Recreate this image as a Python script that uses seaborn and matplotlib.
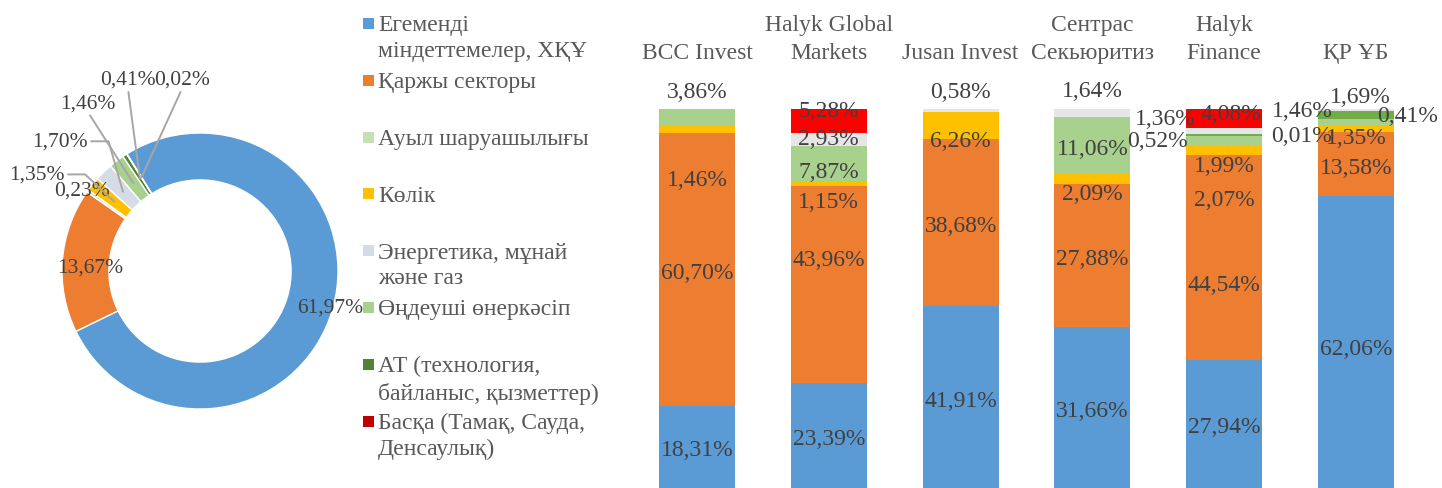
import numpy as np
import pandas as pd
import matplotlib
matplotlib.use("Agg")
import matplotlib.pyplot as plt
from matplotlib.patches import Rectangle
import seaborn as sns

# ---------------- data ----------------
donut_labels = ["Егеменді\nміндеттемелер, ХҚҰ", "Қаржы секторы", "Ауыл шаруашылығы", "Көлік",
                "Энергетика, мұнай\nжәне газ", "Өңдеуші өнеркәсіп",
                "АТ (технология,\nбайланыс, қызметтер)", "Басқа (Тамақ, Сауда,\nДенсаулық)"]
donut_values = [61.97, 13.67, 0.23, 1.35, 1.70, 1.46, 0.41, 0.02]
donut_colors = ["#5b9bd5", "#ed7d31", "#c5e0b4", "#ffc000", "#d6dce5", "#a9d18e", "#548235", "#c00000"]

bar_categories = ["BCC Invest", "Halyk Global\nMarkets", "Jusan Invest",
                  "Сентрас\nСекьюритиз", "Halyk\nFinance", "ҚР ҰБ"]
sovereign     = [18.31, 23.39, 41.91, 31.66, 27.94, 62.06]
financial     = [60.70, 43.96, 38.68, 27.88, 44.54, 13.58]
transport     = [1.46, 1.15, 6.26, 2.09, 2.07, 1.35]
manufacturing = [3.86, 7.87, 0.00, 11.06, 1.99, 1.46]
it_sector     = [0.00, 0.00, 0.00, 0.00, 0.52, 1.69]
energy        = [0.00, 2.93, 0.58, 1.64, 1.36, 0.41]
other         = [0.00, 5.28, 0.00, 0.00, 4.08, 0.01]
bar_series = [sovereign, financial, transport, manufacturing, it_sector, energy, other]
bar_colors = ["#5b9bd5", "#ed7d31", "#ffc000", "#a9d18e", "#70ad47", "#e7e6e6", "#ff0000"]

# ---------------- layout (label placement) ----------------
# per bar: series index -> (x offset in category units, y in percent of column)
bar_label_layout = [
    {2: (0, 82.1), 3: (0, 105.3)},
    {1: (0, 61.2), 2: (0, 76.3), 3: (0, 84.2), 5: (0, 92.9), 6: (0, 100.5)},
    {2: (0, 92.6), 5: (0, 105.3)},
    {2: (0, 78.4), 5: (0, 105.8)},
    {1: (0, 54.4), 2: (0, 76.8), 3: (0, 86.0), 4: (-0.508, 92.6), 5: (-0.448, 98.4), 6: (0.05, 99.5)},
    {0: (0, 37.5), 2: (0, 93.4), 3: (-0.41, 100.5), 4: (0.03, 104.0), 5: (0.39, 99.2), 6: (-0.41, 93.9)},
]
donut_text_pos = {0: (0.942, -0.26), 1: (-0.797, 0.03),
                  2: (-0.855, 0.59), 3: (-1.181, 0.70), 4: (-1.014, 0.94),
                  5: (-0.812, 1.22), 6: (-0.522, 1.39), 7: (-0.130, 1.39)}

def fmt(v):
    return f"{v:.2f}".replace(".", ",") + "%"

sns.set_theme(style="white")
plt.rcParams["font.family"] = ["Liberation Serif", "DejaVu Serif"]

W, H = 1442, 489
fig = plt.figure(figsize=(W / 100, H / 100), dpi=100)

LABEL_COLOR = "#404040"
TEXT_COLOR = "#595959"
FS = 17
FS_DONUT = 15.5

# ---------------- donut ----------------
cx, cy, R = 200, 272, 138
L = 1.6
axd = fig.add_axes([(cx - L * R) / W, (H - cy - L * R) / H, 2 * L * R / W, 2 * L * R / H])
wedges, _ = axd.pie(donut_values, colors=donut_colors, startangle=122, counterclock=False,
                    radius=1, wedgeprops=dict(width=0.34, edgecolor="white", linewidth=1))
axd.set_xlim(-L, L)
axd.set_ylim(-L, L)
axd.set_aspect("equal")
axd.axis("off")

def mid_point(w, r=0.83):
    a = np.deg2rad((w.theta1 + w.theta2) / 2)
    return r * np.cos(a), r * np.sin(a)

line_kw = dict(arrowstyle="-", color="#a6a6a6", lw=1.4, shrinkA=0, shrinkB=0)
for i, (w, v) in enumerate(zip(wedges, donut_values)):
    txt = fmt(v)
    tx, ty = donut_text_pos[i]
    anchor = mid_point(w, 0.80)
    if i in (0, 1, 2):
        axd.text(tx, ty, txt, ha="center", va="center", fontsize=FS_DONUT, color=LABEL_COLOR)
    elif i in (3, 4):
        angB = 137 if i == 3 else 106
        axd.annotate(txt, xy=anchor, xytext=(tx, ty), ha="center", va="center",
                     fontsize=FS_DONUT, color=LABEL_COLOR,
                     arrowprops=dict(**line_kw, relpos=(1.0, 0.5),
                                     connectionstyle=f"angle,angleA=0,angleB={angB},rad=0"))
    else:
        axd.annotate(txt, xy=anchor, xytext=(tx, ty), ha="center", va="center",
                     fontsize=FS_DONUT, color=LABEL_COLOR,
                     arrowprops=dict(**line_kw, relpos=(0.5, 0.0)))

# ---------------- legend ----------------
for i, (lab, col) in enumerate(zip(donut_labels, donut_colors)):
    yc = 24.5 + 56.8 * i
    fig.patches.append(Rectangle((363 / W, (H - yc - 5.5) / H), 11 / W, 11 / H,
                                 transform=fig.transFigure, facecolor=col, edgecolor="none"))
    fig.text(378 / W, (H - yc + 9) / H, lab, ha="left", va="top", fontsize=FS,
             color=TEXT_COLOR, linespacing=1.3)

# ---------------- stacked 100% columns ----------------
vals = np.array(bar_series, dtype=float)          # series x bars
totals = vals.sum(axis=0)
norm = vals / totals * 100
cum = np.cumsum(norm, axis=0)

x0, x5, step = 697, 1356, (1356 - 697) / 5
axb = fig.add_axes([(x0 - step / 2) / W, 0, (6 * step) / W, 379 / H])
for k in range(len(bar_series) - 1, -1, -1):
    df = pd.DataFrame({"cat": bar_categories, "cum": cum[k]})
    sns.barplot(data=df, x="cat", y="cum", order=bar_categories, color=bar_colors[k],
                saturation=1, width=0.577, linewidth=0, errorbar=None, ax=axb)
axb.set_xlim(-0.5, 5.5)
axb.set_ylim(0, 100)
axb.set_xlabel("")
axb.set_ylabel("")
axb.set_yticks([])
axb.xaxis.tick_top()
axb.tick_params(axis="x", length=0, pad=33, labelsize=FS, labelcolor=TEXT_COLOR)
for t in axb.get_xticklabels():
    t.set_linespacing(1.45)
for s in axb.spines.values():
    s.set_visible(False)

for i in range(len(bar_categories)):
    for k in range(len(bar_series)):
        v = vals[k, i]
        if v <= 0:
            continue
        dx, y = bar_label_layout[i].get(k, (0, None))
        if y is None:
            y = cum[k, i] - norm[k, i] / 2
        axb.text(i + dx, y - 0.8, fmt(v), ha="center", va="center", fontsize=FS,
                 color=LABEL_COLOR, clip_on=False)

fig.savefig("out.png", dpi=100)
